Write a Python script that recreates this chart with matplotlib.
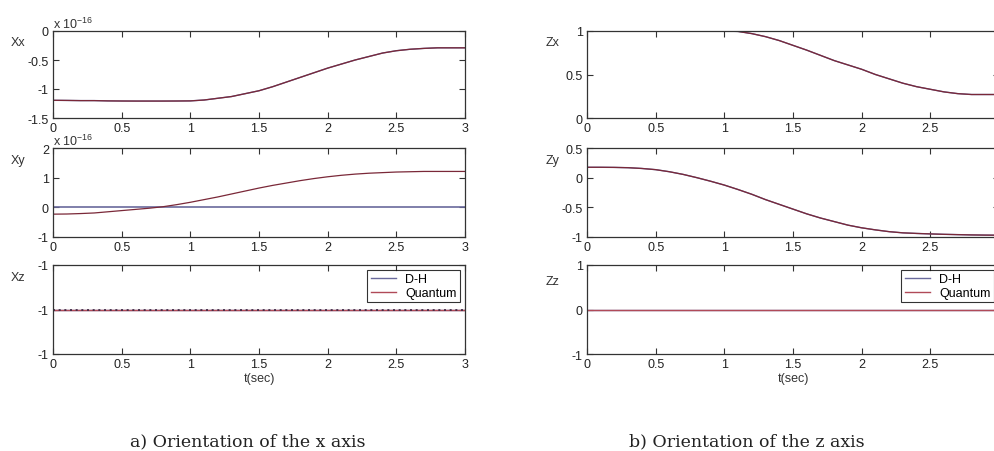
import numpy as np
import matplotlib.pyplot as plt

## time axis (sec) and the read-off orientation components
t = np.round(np.arange(0, 3.01, 0.1), 2)

## x axis components (Xx, Xy in units of 1e-16)
xx_q = [-1.195, -1.197, -1.2, -1.2, -1.205, -1.207, -1.208, -1.208, -1.208, -1.207,
        -1.205, -1.19, -1.16, -1.13, -1.08, -1.03, -0.96, -0.88, -0.80, -0.72,
        -0.64, -0.57, -0.50, -0.44, -0.38, -0.34, -0.315, -0.30, -0.29, -0.29, -0.29]
xy_q = [-0.23, -0.225, -0.21, -0.19, -0.15, -0.11, -0.07, -0.03, 0.02, 0.09,
        0.17, 0.26, 0.35, 0.45, 0.55, 0.65, 0.74, 0.82, 0.90, 0.97,
        1.03, 1.08, 1.12, 1.15, 1.17, 1.19, 1.20, 1.21, 1.21, 1.21, 1.21]
xy_dh = [0.0] * 31
xz_val = [-1.0] * 31

## z axis components
zx_q = [1.0, 1.0, 1.0, 1.0, 1.0, 1.0, 1.0, 1.0, 1.0, 1.0,
        1.0, 0.995, 0.97, 0.935, 0.89, 0.835, 0.78, 0.72, 0.66, 0.61,
        0.56, 0.50, 0.45, 0.40, 0.36, 0.33, 0.30, 0.28, 0.27, 0.27, 0.27]
zy_q = [0.175, 0.175, 0.173, 0.168, 0.155, 0.135, 0.10, 0.055, 0.0, -0.06,
        -0.125, -0.20, -0.28, -0.37, -0.45, -0.53, -0.61, -0.68, -0.74, -0.80,
        -0.845, -0.88, -0.91, -0.93, -0.94, -0.948, -0.955, -0.96, -0.965, -0.968, -0.97]
zz_val = [0.0] * 31

xticks = [0, 0.5, 1, 1.5, 2, 2.5, 3]
xticklabels_left = ['0', '0.5', '1', '1.5', '2', '2.5', '3']
xticklabels_right = ['0', '0.5', '1', '1.5', '2', '2.5', '']   # "3" falls off the picture

dh_color = '#6a6a9c'
q_color = '#b04a58'
curve_color = '#7a2838'
fs = 9

plt.rcParams['font.family'] = ['Liberation Sans', 'DejaVu Sans']
plt.rcParams['mathtext.fontset'] = 'custom'
plt.rcParams['mathtext.rm'] = 'Liberation Sans'

fig = plt.figure(figsize=(9.95, 4.52), dpi=100)

lefts = [53/995, 587/995]
width = 412/995
rows = [(32, 119), (149, 238), (266, 355)]

def make_ax(col, row):
    top, bot = rows[row]
    ax = fig.add_axes([lefts[col], 1 - bot/452, width, (bot - top)/452])
    ax.set_xlim(0, 3)
    ax.set_xticks(xticks)
    ax.set_xticklabels(xticklabels_left if col == 0 else xticklabels_right)
    ax.tick_params(direction='in', top=True, right=True, length=4, width=0.8,
                   labelsize=fs, labelcolor='#222222', colors='#333333', pad=3)
    for s in ax.spines.values():
        s.set_color('#333333')
        s.set_linewidth(0.9)
    return ax

def side_label(ax, txt, x=-0.085, y=0.87):
    ax.set_ylabel(txt, rotation=0, fontsize=fs, color='#333333', va='center', ha='center')
    ax.yaxis.set_label_coords(x, y)

def exp_text(ax):
    ax.text(0.0, 1.005, r'x 10$^{-16}$', transform=ax.transAxes, fontsize=fs,
            color='#333333', ha='left', va='bottom')

## ---------------- left column: x axis ----------------
ax = make_ax(0, 0)
ax.plot(t, xx_q, color=dh_color, lw=1)
ax.plot(t, xx_q, color=curve_color, lw=0.9)
ax.set_ylim(-1.5, 0)
ax.set_yticks([-1.5, -1, -0.5, 0])
ax.set_yticklabels(['-1.5', '-1', '-0.5', '0'])
side_label(ax, 'Xx')
exp_text(ax)

ax = make_ax(0, 1)
ax.plot(t, xy_dh, color=dh_color, lw=1.2)
ax.plot(t, xy_q, color=curve_color, lw=0.9)
ax.set_ylim(-1, 2)
ax.set_yticks([-1, 0, 1, 2])
ax.set_yticklabels(['-1', '0', '1', '2'])
side_label(ax, 'Xy')
exp_text(ax)

ax = make_ax(0, 2)
eps = 1e-12
ax.plot(t, xz_val, color=dh_color, lw=1, label='D-H')
ax.plot(t, xz_val, color=q_color, lw=1, label='Quantum')
ax.plot(t, xz_val, color='#3a2440', lw=1.2, dashes=(1.2, 2.2))
ax.set_ylim(-1 - eps, -1 + eps)
ax.set_yticks([-1 - eps, -1, -1 + eps])
ax.set_yticklabels(['-1', '-1', '-1'])
side_label(ax, 'Xz')
ax.set_xlabel('t(sec)', fontsize=fs, color='#333333', labelpad=1)
ax.legend(handles=ax.lines[:2], loc='upper right', fontsize=fs, frameon=True, fancybox=False,
          edgecolor='black', handlelength=2.0, borderpad=0.25, labelspacing=0.15,
          borderaxespad=0.4).get_frame().set_linewidth(0.8)

## ---------------- right column: z axis ----------------
ax = make_ax(1, 0)
ax.plot(t, zx_q, color=dh_color, lw=1)
ax.plot(t, zx_q, color=curve_color, lw=0.9)
ax.set_ylim(0, 1)
ax.set_yticks([0, 0.5, 1])
ax.set_yticklabels(['0', '0.5', '1'])
side_label(ax, 'Zx', x=-0.083)

ax = make_ax(1, 1)
ax.plot(t, zy_q, color=dh_color, lw=1)
ax.plot(t, zy_q, color=curve_color, lw=0.9)
ax.set_ylim(-1, 0.5)
ax.set_yticks([-1, -0.5, 0, 0.5])
ax.set_yticklabels(['-1', '-0.5', '0', '0.5'])
side_label(ax, 'Zy', x=-0.083)

ax = make_ax(1, 2)
ax.plot(t, zz_val, color=dh_color, lw=1, label='D-H')
ax.plot(t, zz_val, color=q_color, lw=1, label='Quantum')
ax.set_ylim(-1, 1)
ax.set_yticks([-1, 0, 1])
ax.set_yticklabels(['-1', '0', '1'])
side_label(ax, 'Zz', x=-0.083, y=0.82)
ax.set_xlabel('t(sec)', fontsize=fs, color='#333333', labelpad=1)
ax.legend(loc='upper right', fontsize=fs, frameon=True, fancybox=False,
          edgecolor='black', handlelength=2.0, borderpad=0.25, labelspacing=0.15,
          borderaxespad=0.4).get_frame().set_linewidth(0.8)

## captions
fig.text(248/995, 1 - 442/452, 'a) Orientation of the x axis', family='DejaVu Serif',
         fontsize=12.5, color='#222222', ha='center', va='center')
fig.text(747/995, 1 - 442/452, 'b) Orientation of the z axis', family='DejaVu Serif',
         fontsize=12.5, color='#222222', ha='center', va='center')

fig.savefig('out.png', dpi=100)
